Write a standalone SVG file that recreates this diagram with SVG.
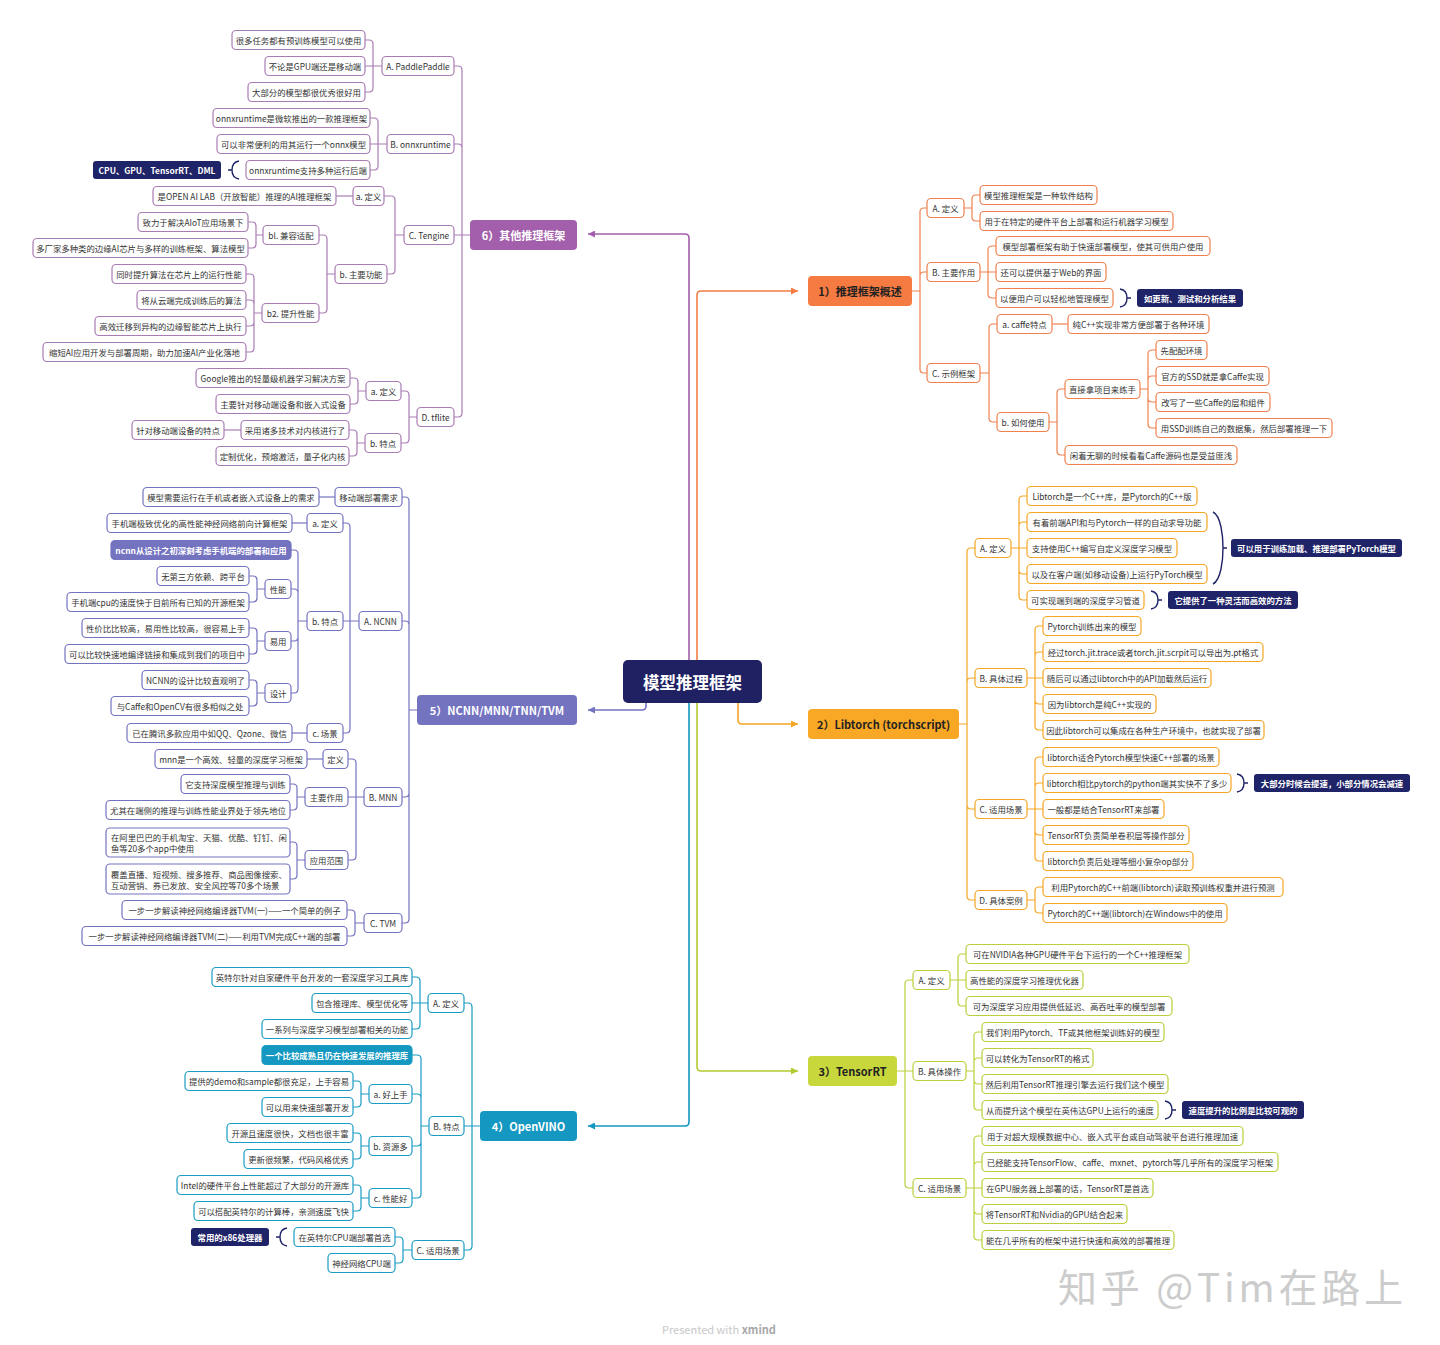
<svg xmlns="http://www.w3.org/2000/svg" width="1440" height="1345" viewBox="0 0 1440 1345">
<defs>
<style>
text{font-family:"Noto Sans CJK SC","Noto Sans",sans-serif;}
.n rect{fill:#fff;stroke-width:1.2;}
.n text{font-size:8.4px;fill:#333;text-anchor:middle;dominant-baseline:central;}
.o rect{stroke:#f0804e;} .a rect{stroke:#f5a623;} .l rect{stroke:#bccf3a;} .t rect{stroke:#1a9cc4;} .p rect{stroke:#7473c0;} .v rect{stroke:#a97cb5;}
.co rect{fill:#1f2367;stroke:none;}
.co text{font-size:8.4px;fill:#fff;font-weight:bold;text-anchor:middle;dominant-baseline:central;}
.b rect{stroke:none;}
.b text{font-size:11px;font-weight:bold;text-anchor:middle;dominant-baseline:central;}
.dk text{fill:#222;} .wt text{fill:#fff;}
.hl text{fill:#fff;font-weight:bold;}
.ml text{text-anchor:start;dominant-baseline:central;}
.cn path{fill:none;stroke-width:1.2;}
.mc path{fill:none;stroke-width:1.6;}
.br path{fill:none;stroke:#1f2367;stroke-width:1.4;}
</style>
<marker id="mo" viewBox="0 0 10 10" refX="10" refY="5" markerWidth="7" markerHeight="7" markerUnits="userSpaceOnUse" orient="auto"><path d="M0,0L10,5L0,10z" fill="#f47c44"/></marker>
<marker id="ma" viewBox="0 0 10 10" refX="10" refY="5" markerWidth="7" markerHeight="7" markerUnits="userSpaceOnUse" orient="auto"><path d="M0,0L10,5L0,10z" fill="#f5a623"/></marker>
<marker id="ml" viewBox="0 0 10 10" refX="10" refY="5" markerWidth="7" markerHeight="7" markerUnits="userSpaceOnUse" orient="auto"><path d="M0,0L10,5L0,10z" fill="#b5ca30"/></marker>
<marker id="mt" viewBox="0 0 10 10" refX="10" refY="5" markerWidth="7" markerHeight="7" markerUnits="userSpaceOnUse" orient="auto"><path d="M0,0L10,5L0,10z" fill="#1497c0"/></marker>
<marker id="mp" viewBox="0 0 10 10" refX="10" refY="5" markerWidth="7" markerHeight="7" markerUnits="userSpaceOnUse" orient="auto"><path d="M0,0L10,5L0,10z" fill="#7473c0"/></marker>
<marker id="mv" viewBox="0 0 10 10" refX="10" refY="5" markerWidth="7" markerHeight="7" markerUnits="userSpaceOnUse" orient="auto"><path d="M0,0L10,5L0,10z" fill="#a35fab"/></marker>
</defs>
<rect width="1440" height="1345" fill="#fff"/>

<g id="connectors">
<g class="mc">
<path d="M689,660V238Q689,234 685,234H588" stroke="#a35fab" marker-end="url(#mv)"/>
<path d="M697,660V295Q697,291 701,291H798" stroke="#f47c44" marker-end="url(#mo)"/>
<path d="M646,703V706Q646,710 642,710H588" stroke="#7473c0" marker-end="url(#mp)"/>
<path d="M738,703V720Q738,724 742,724H798" stroke="#f5a623" marker-end="url(#ma)"/>
<path d="M689,703V1122Q689,1126 685,1126H588" stroke="#1497c0" marker-end="url(#mt)"/>
<path d="M697,703V1067Q697,1071 701,1071H798" stroke="#b5ca30" marker-end="url(#ml)"/>
</g>
<g class="cn" stroke="#f0804e">
<path d="M912,291H920 M920,291V212Q920,208 924,208H927 M920,291V276Q920,272 924,272H927 M920,291V369Q920,373 924,373H927"/>
<path d="M964,208H972 M972,208V199Q972,195 976,195H980 M972,208V217Q972,221 976,221H980"/>
<path d="M980,272H996 M988,272V250Q988,246 992,246H996 M988,272V294Q988,298 992,298H996"/>
<path d="M980,373H989 M989,373V328Q989,324 993,324H997 M989,373V418Q989,422 993,422H997"/>
<path d="M1052,324H1068"/>
<path d="M1049,422H1057 M1057,422V393Q1057,389 1061,389H1065 M1057,422V451Q1057,455 1061,455H1065"/>
<path d="M1140,389H1148 M1148,389V354Q1148,350 1152,350H1156 M1148,389V380Q1148,376 1152,376H1156 M1148,389V398Q1148,402 1152,402H1156 M1148,389V424Q1148,428 1152,428H1156"/>
</g>
<g class="cn" stroke="#f5a623">
<path d="M959,724H967 M967,724V552Q967,548 971,548H975 M967,724V682Q967,678 971,678H975 M967,724V805Q967,809 971,809H975 M967,724V896Q967,900 971,900H975"/>
<path d="M1011,548H1027 M1019,548V500Q1019,496 1023,496H1027 M1019,548V526Q1019,522 1023,522H1027 M1019,548V570Q1019,574 1023,574H1027 M1019,548V596Q1019,600 1023,600H1027"/>
<path d="M1027,678H1043 M1035,678V630Q1035,626 1039,626H1043 M1035,678V656Q1035,652 1039,652H1043 M1035,678V700Q1035,704 1039,704H1043 M1035,678V726Q1035,730 1039,730H1043"/>
<path d="M1027,809H1043 M1035,809V761Q1035,757 1039,757H1043 M1035,809V787Q1035,783 1039,783H1043 M1035,809V831Q1035,835 1039,835H1043 M1035,809V857Q1035,861 1039,861H1043"/>
<path d="M1027,900H1035 M1035,900V891Q1035,887 1039,887H1043 M1035,900V909Q1035,913 1039,913H1043"/>
</g>
<g class="cn" stroke="#bccf3a">
<path d="M897,1071H913 M905,1071V984Q905,980 909,980H913 M905,1071V1184Q905,1188 909,1188H913"/>
<path d="M950,980H966 M958,980V958Q958,954 962,954H966 M958,980V1002Q958,1006 962,1006H966"/>
<path d="M966,1071H974 M974,1071V1036Q974,1032 978,1032H982 M974,1071V1062Q974,1058 978,1058H982 M974,1071V1080Q974,1084 978,1084H982 M974,1071V1106Q974,1110 978,1110H982"/>
<path d="M966,1188H982 M974,1188V1140Q974,1136 978,1136H982 M974,1188V1166Q974,1162 978,1162H982 M974,1188V1210Q974,1214 978,1214H982 M974,1188V1236Q974,1240 978,1240H982"/>
</g>
<g class="cn" stroke="#1a9cc4">
<path d="M480,1126H464 M472,1126V1007Q472,1003 468,1003H464 M472,1126V1246Q472,1250 468,1250H464"/>
<path d="M428,1003H412 M420,1003V981Q420,977 416,977H412 M420,1003V1025Q420,1029 416,1029H412"/>
<path d="M429,1126H421 M421,1126V1059Q421,1055 417,1055H412 M421,1126V1098Q421,1094 417,1094H412 M421,1126V1142Q421,1146 417,1146H412 M421,1126V1194Q421,1198 417,1198H412"/>
<path d="M369,1094H361 M361,1094V1085Q361,1081 357,1081H353 M361,1094V1103Q361,1107 357,1107H353"/>
<path d="M369,1146H361 M361,1146V1137Q361,1133 357,1133H353 M361,1146V1155Q361,1159 357,1159H353"/>
<path d="M369,1198H361 M361,1198V1189Q361,1185 357,1185H353 M361,1198V1207Q361,1211 357,1211H353"/>
<path d="M412,1250H403 M403,1250V1241Q403,1237 399,1237H395 M403,1250V1259Q403,1263 399,1263H395"/>
</g>
<g class="cn" stroke="#7473c0">
<path d="M417,710H409 M409,710V501Q409,497 405,497H402 M409,710V625Q409,621 405,621H402 M409,710V793Q409,797 405,797H402 M409,710V919Q409,923 405,923H402"/>
<path d="M335,497H319"/>
<path d="M359,621H343 M350,621V527Q350,523 346,523H343 M350,621V729Q350,733 346,733H343"/>
<path d="M307,523H292"/>
<path d="M307,621H298 M298,621V554Q298,550 294,550H291 M298,621V593Q298,589 294,589H291 M298,621V637Q298,641 294,641H291 M298,621V689Q298,693 294,693H291"/>
<path d="M265,589H257 M257,589V580Q257,576 253,576H249 M257,589V598Q257,602 253,602H249"/>
<path d="M265,641H257 M257,641V632Q257,628 253,628H249 M257,641V650Q257,654 253,654H249"/>
<path d="M265,693H257 M257,693V684Q257,680 253,680H249 M257,693V702Q257,706 253,706H249"/>
<path d="M307,733H292"/>
<path d="M364,797H348 M356,797V763Q356,759 352,759H348 M356,797V856Q356,860 352,860H348"/>
<path d="M323,759H307"/>
<path d="M305,797H297 M297,797V788Q297,784 293,784H290 M297,797V806Q297,810 293,810H290"/>
<path d="M305,860H297 M297,860V846Q297,842 293,842H290 M297,860V875Q297,879 293,879H290"/>
<path d="M364,923H355 M355,923V914Q355,910 351,910H347 M355,923V932Q355,936 351,936H347"/>
</g>
<g class="cn" stroke="#a97cb5">
<path d="M470,235H454 M462,235V70Q462,66 458,66H454 M462,235V148Q462,144 458,144H454 M462,235V413Q462,417 458,417H454"/>
<path d="M382,66H365 M373,66V44Q373,40 369,40H365 M373,66V88Q373,92 369,92H365"/>
<path d="M387,144H370 M378,144V122Q378,118 374,118H370 M378,144V166Q378,170 374,170H370"/>
<path d="M404,235H395 M395,235V200Q395,196 391,196H384 M395,235V270Q395,274 391,274H387"/>
<path d="M353,196H336"/>
<path d="M335,274H327 M327,274V239Q327,235 323,235H319 M327,274V309Q327,313 323,313H319"/>
<path d="M263,235H256 M256,235V226Q256,222 252,222H248 M256,235V244Q256,248 252,248H248"/>
<path d="M262,313H254 M254,313V278Q254,274 250,274H246 M254,313V304Q254,300 250,300H246 M254,313V322Q254,326 250,326H246 M254,313V348Q254,352 250,352H246"/>
<path d="M417,417H409 M409,417V395Q409,391 405,391H401 M409,417V439Q409,443 405,443H401"/>
<path d="M366,391H358 M358,391V382Q358,378 354,378H350 M358,391V400Q358,404 354,404H350"/>
<path d="M365,443H357 M357,443V434Q357,430 353,430H349 M357,443V452Q357,456 353,456H349"/>
<path d="M241,430H224"/>
</g>
<g class="br">
<path d="M1120,289C1126,290 1127,294 1127,298C1127,302 1126,306 1120,307M1127,298H1131"/>
<path d="M1213,512C1221,516 1223,536 1223,548C1223,560 1221,580 1213,584M1223,548H1227"/>
<path d="M1151,591C1157,592 1158,596 1158,600C1158,604 1157,608 1151,609M1158,600H1162"/>
<path d="M1237,774C1243,775 1244,779 1244,783C1244,787 1243,791 1237,792M1244,783H1248"/>
<path d="M1165,1101C1171,1102 1172,1106 1172,1110C1172,1114 1171,1118 1165,1119M1172,1110H1176"/>
<path d="M239,161C233,162 232,166 232,170C232,174 233,178 239,179M232,170H228"/>
<path d="M287,1228C281,1229 280,1233 280,1237C280,1241 281,1245 287,1246M280,1237H276"/>
</g>
</g>

<g id="center"><rect x="623" y="660" width="139" height="43" rx="5" fill="#1f2163"/><text x="692.5" y="681.5" font-size="16.5" font-weight="bold" fill="#fff" text-anchor="middle" dominant-baseline="central">模型推理框架</text></g>

<!-- Branch 1 -->
<g id="b1" class="b dk"><rect x="808" y="276" width="104" height="30" rx="4" fill="#f67b43"/><text x="860" y="291">1）推理框架概述</text></g>
<g id="b1-A" class="n o"><rect x="927" y="198.5" width="37" height="19" rx="4"/><text x="945.5" y="208">A. 定义</text></g>
<g id="b1-B" class="n o"><rect x="927" y="262.5" width="53" height="19" rx="4"/><text x="953.5" y="272">B. 主要作用</text></g>
<g id="b1-C" class="n o"><rect x="927" y="363.5" width="53" height="19" rx="4"/><text x="953.5" y="373">C. 示例框架</text></g>
<g id="b1-A1" class="n o"><rect x="980" y="185.5" width="117" height="19" rx="4"/><text x="1038.5" y="195">模型推理框架是一种软件结构</text></g>
<g id="b1-A2" class="n o"><rect x="980" y="211.5" width="193" height="19" rx="4"/><text x="1076.5" y="221">用于在特定的硬件平台上部署和运行机器学习模型</text></g>
<g id="b1-B1" class="n o"><rect x="996" y="236.5" width="214" height="19" rx="4"/><text x="1103" y="246">模型部署框架有助于快速部署模型，使其可供用户使用</text></g>
<g id="b1-B2" class="n o"><rect x="996" y="262.5" width="110" height="19" rx="4"/><text x="1051" y="272">还可以提供基于Web的界面</text></g>
<g id="b1-B3" class="n o"><rect x="996" y="288.5" width="117" height="19" rx="4"/><text x="1054.5" y="298">以便用户可以轻松地管理模型</text></g>
<g id="b1-B3-note" class="co"><rect x="1137" y="289" width="106" height="18" rx="3"/><text x="1190" y="298">如更新、测试和分析结果</text></g>
<g id="b1-Ca" class="n o"><rect x="997" y="314.5" width="55" height="19" rx="4"/><text x="1024.5" y="324">a. caffe特点</text></g>
<g id="b1-Ca1" class="n o"><rect x="1068" y="314.5" width="141" height="19" rx="4"/><text x="1138.5" y="324">纯C++实现非常方便部署于各种环境</text></g>
<g id="b1-Cb" class="n o"><rect x="997" y="412.5" width="52" height="19" rx="4"/><text x="1023" y="422">b. 如何使用</text></g>
<g id="b1-Cb1" class="n o"><rect x="1065" y="379.5" width="75" height="19" rx="4"/><text x="1102.5" y="389">直接拿项目来练手</text></g>
<g id="b1-Cb1a" class="n o"><rect x="1156" y="340.5" width="51" height="19" rx="4"/><text x="1181.5" y="350">先配配环境</text></g>
<g id="b1-Cb1b" class="n o"><rect x="1156" y="366.5" width="113" height="19" rx="4"/><text x="1212.5" y="376">官方的SSD就是拿Caffe实现</text></g>
<g id="b1-Cb1c" class="n o"><rect x="1156" y="392.5" width="114" height="19" rx="4"/><text x="1213" y="402">改写了一些Caffe的层和组件</text></g>
<g id="b1-Cb1d" class="n o"><rect x="1156" y="418.5" width="176" height="19" rx="4"/><text x="1244" y="428">用SSD训练自己的数据集，然后部署推理一下</text></g>
<g id="b1-Cb2" class="n o"><rect x="1065" y="445.5" width="172" height="19" rx="4"/><text x="1151" y="455">闲着无聊的时候看看Caffe源码也是受益匪浅</text></g>

<!-- Branch 2 -->
<g id="b2" class="b dk"><rect x="808" y="709" width="151" height="30" rx="4" fill="#f9a825"/><text x="883.5" y="724">2）Libtorch (torchscript)</text></g>
<g id="b2-A" class="n a"><rect x="975" y="538.5" width="36" height="19" rx="4"/><text x="993" y="548">A. 定义</text></g>
<g id="b2-B" class="n a"><rect x="975" y="668.5" width="52" height="19" rx="4"/><text x="1001" y="678">B. 具体过程</text></g>
<g id="b2-C" class="n a"><rect x="975" y="799.5" width="52" height="19" rx="4"/><text x="1001" y="809">C. 适用场景</text></g>
<g id="b2-D" class="n a"><rect x="975" y="890.5" width="52" height="19" rx="4"/><text x="1001" y="900">D. 具体案例</text></g>
<g id="b2-A1" class="n a"><rect x="1027" y="486.5" width="170" height="19" rx="4"/><text x="1112" y="496">Libtorch是一个C++库，是Pytorch的C++版</text></g>
<g id="b2-A2" class="n a"><rect x="1027" y="512.5" width="180" height="19" rx="4"/><text x="1117" y="522">有着前端API和与Pytorch一样的自动求导功能</text></g>
<g id="b2-A3" class="n a"><rect x="1027" y="538.5" width="150" height="19" rx="4"/><text x="1102" y="548">支持使用C++编写自定义深度学习模型</text></g>
<g id="b2-A4" class="n a"><rect x="1027" y="564.5" width="180" height="19" rx="4"/><text x="1117" y="574">以及在客户端(如移动设备)上运行PyTorch模型</text></g>
<g id="b2-A5" class="n a"><rect x="1027" y="590.5" width="117" height="19" rx="4"/><text x="1085.5" y="600">可实现端到端的深度学习管道</text></g>
<g id="b2-A-note" class="co"><rect x="1231" y="539" width="171" height="18" rx="3"/><text x="1316.5" y="548">可以用于训练加载、推理部署PyTorch模型</text></g>
<g id="b2-A5-note" class="co"><rect x="1168" y="591" width="130" height="18" rx="3"/><text x="1233" y="600">它提供了一种灵活而高效的方法</text></g>
<g id="b2-B1" class="n a"><rect x="1043" y="616.5" width="98" height="19" rx="4"/><text x="1092" y="626">Pytorch训练出来的模型</text></g>
<g id="b2-B2" class="n a"><rect x="1043" y="642.5" width="220" height="19" rx="4"/><text x="1153" y="652">经过torch.jit.trace或者torch.jit.scrpit可以导出为.pt格式</text></g>
<g id="b2-B3" class="n a"><rect x="1043" y="668.5" width="168" height="19" rx="4"/><text x="1127" y="678">随后可以通过libtorch中的API加载然后运行</text></g>
<g id="b2-B4" class="n a"><rect x="1043" y="694.5" width="113" height="19" rx="4"/><text x="1099.5" y="704">因为libtorch是纯C++实现的</text></g>
<g id="b2-B5" class="n a"><rect x="1043" y="720.5" width="221" height="19" rx="4"/><text x="1153.5" y="730">因此libtorch可以集成在各种生产环境中，也就实现了部署</text></g>
<g id="b2-C1" class="n a"><rect x="1043" y="747.5" width="176" height="19" rx="4"/><text x="1131" y="757">libtorch适合Pytorch模型快速C++部署的场景</text></g>
<g id="b2-C2" class="n a"><rect x="1043" y="773.5" width="188" height="19" rx="4"/><text x="1137" y="783">libtorch相比pytorch的python端其实快不了多少</text></g>
<g id="b2-C2-note" class="co"><rect x="1254" y="774" width="156" height="18" rx="3"/><text x="1332" y="783">大部分时候会提速，小部分情况会减速</text></g>
<g id="b2-C3" class="n a"><rect x="1043" y="799.5" width="121" height="19" rx="4"/><text x="1103.5" y="809">一般都是结合TensorRT来部署</text></g>
<g id="b2-C4" class="n a"><rect x="1043" y="825.5" width="146" height="19" rx="4"/><text x="1116" y="835">TensorRT负责简单卷积层等操作部分</text></g>
<g id="b2-C5" class="n a"><rect x="1043" y="851.5" width="150" height="19" rx="4"/><text x="1118" y="861">libtorch负责后处理等细小复杂op部分</text></g>
<g id="b2-D1" class="n a"><rect x="1043" y="877.5" width="240" height="19" rx="4"/><text x="1163" y="887">利用Pytorch的C++前端(libtorch)读取预训练权重并进行预测</text></g>
<g id="b2-D2" class="n a"><rect x="1043" y="903.5" width="184" height="19" rx="4"/><text x="1135" y="913">Pytorch的C++端(libtorch)在Windows中的使用</text></g>

<!-- Branch 3 -->
<g id="b3" class="b dk"><rect x="808" y="1056" width="89" height="30" rx="4" fill="#c8d83c"/><text x="852.5" y="1071">3）TensorRT</text></g>
<g id="b3-A" class="n l"><rect x="913" y="970.5" width="37" height="19" rx="4"/><text x="931.5" y="980">A. 定义</text></g>
<g id="b3-B" class="n l"><rect x="913" y="1061.5" width="53" height="19" rx="4"/><text x="939.5" y="1071">B. 具体操作</text></g>
<g id="b3-C" class="n l"><rect x="913" y="1178.5" width="53" height="19" rx="4"/><text x="939.5" y="1188">C. 适用场景</text></g>
<g id="b3-A1" class="n l"><rect x="966" y="944.5" width="223" height="19" rx="4"/><text x="1077.5" y="954">可在NVIDIA各种GPU硬件平台下运行的一个C++推理框架</text></g>
<g id="b3-A2" class="n l"><rect x="966" y="970.5" width="117" height="19" rx="4"/><text x="1024.5" y="980">高性能的深度学习推理优化器</text></g>
<g id="b3-A3" class="n l"><rect x="966" y="996.5" width="206" height="19" rx="4"/><text x="1069" y="1006">可为深度学习应用提供低延迟、高吞吐率的模型部署</text></g>
<g id="b3-B1" class="n l"><rect x="982" y="1022.5" width="182" height="19" rx="4"/><text x="1073" y="1032">我们利用Pytorch、TF或其他框架训练好的模型</text></g>
<g id="b3-B2" class="n l"><rect x="982" y="1048.5" width="111" height="19" rx="4"/><text x="1037.5" y="1058">可以转化为TensorRT的格式</text></g>
<g id="b3-B3" class="n l"><rect x="982" y="1074.5" width="186" height="19" rx="4"/><text x="1075" y="1084">然后利用TensorRT推理引擎去运行我们这个模型</text></g>
<g id="b3-B4" class="n l"><rect x="982" y="1100.5" width="176" height="19" rx="4"/><text x="1070" y="1110">从而提升这个模型在英伟达GPU上运行的速度</text></g>
<g id="b3-B4-note" class="co"><rect x="1182" y="1101" width="122" height="18" rx="3"/><text x="1243" y="1110">速度提升的比例是比较可观的</text></g>
<g id="b3-C1" class="n l"><rect x="982" y="1126.5" width="261" height="19" rx="4"/><text x="1112.5" y="1136">用于对超大规模数据中心、嵌入式平台或自动驾驶平台进行推理加速</text></g>
<g id="b3-C2" class="n l"><rect x="982" y="1152.5" width="296" height="19" rx="4"/><text x="1130" y="1162">已经能支持TensorFlow、caffe、mxnet、pytorch等几乎所有的深度学习框架</text></g>
<g id="b3-C3" class="n l"><rect x="982" y="1178.5" width="171" height="19" rx="4"/><text x="1067.5" y="1188">在GPU服务器上部署的话，TensorRT是首选</text></g>
<g id="b3-C4" class="n l"><rect x="982" y="1204.5" width="145" height="19" rx="4"/><text x="1054.5" y="1214">将TensorRT和Nvidia的GPU结合起来</text></g>
<g id="b3-C5" class="n l"><rect x="982" y="1230.5" width="192" height="19" rx="4"/><text x="1078" y="1240">能在几乎所有的框架中进行快速和高效的部署推理</text></g>

<!-- Branch 4 -->
<g id="b4" class="b wt"><rect x="480" y="1111" width="97" height="30" rx="4" fill="#1497c0"/><text x="528.5" y="1126">4）OpenVINO</text></g>
<g id="b4-A" class="n t"><rect x="428" y="993.5" width="36" height="19" rx="4"/><text x="446" y="1003">A. 定义</text></g>
<g id="b4-B" class="n t"><rect x="429" y="1116.5" width="35" height="19" rx="4"/><text x="446.5" y="1126">B. 特点</text></g>
<g id="b4-C" class="n t"><rect x="412" y="1240.5" width="52" height="19" rx="4"/><text x="438" y="1250">C. 适用场景</text></g>
<g id="b4-A1" class="n t"><rect x="212" y="967.5" width="200" height="19" rx="4"/><text x="312" y="977">英特尔针对自家硬件平台开发的一套深度学习工具库</text></g>
<g id="b4-A2" class="n t"><rect x="312" y="993.5" width="100" height="19" rx="4"/><text x="362" y="1003">包含推理库、模型优化等</text></g>
<g id="b4-A3" class="n t"><rect x="262" y="1019.5" width="150" height="19" rx="4"/><text x="337" y="1029">一系列与深度学习模型部署相关的功能</text></g>
<g id="b4-B0" class="n t hl"><rect x="262" y="1045.5" width="150" height="19" rx="4" style="fill:#1497c0"/><text x="337" y="1055">一个比较成熟且仍在快速发展的推理库</text></g>
<g id="b4-Ba" class="n t"><rect x="369" y="1084.5" width="43" height="19" rx="4"/><text x="390.5" y="1094">a. 好上手</text></g>
<g id="b4-Bb" class="n t"><rect x="369" y="1136.5" width="43" height="19" rx="4"/><text x="390.5" y="1146">b. 资源多</text></g>
<g id="b4-Bc" class="n t"><rect x="369" y="1188.5" width="43" height="19" rx="4"/><text x="390.5" y="1198">c. 性能好</text></g>
<g id="b4-Ba1" class="n t"><rect x="185" y="1071.5" width="168" height="19" rx="4"/><text x="269" y="1081">提供的demo和sample都很充足，上手容易</text></g>
<g id="b4-Ba2" class="n t"><rect x="262" y="1097.5" width="91" height="19" rx="4"/><text x="307.5" y="1107">可以用来快速部署开发</text></g>
<g id="b4-Bb1" class="n t"><rect x="227" y="1123.5" width="126" height="19" rx="4"/><text x="290" y="1133">开源且速度很快，文档也很丰富</text></g>
<g id="b4-Bb2" class="n t"><rect x="244" y="1149.5" width="109" height="19" rx="4"/><text x="298.5" y="1159">更新很频繁，代码风格优秀</text></g>
<g id="b4-Bc1" class="n t"><rect x="177" y="1175.5" width="176" height="19" rx="4"/><text x="265" y="1185">Intel的硬件平台上性能超过了大部分的开源库</text></g>
<g id="b4-Bc2" class="n t"><rect x="194" y="1201.5" width="159" height="19" rx="4"/><text x="273.5" y="1211">可以搭配英特尔的计算棒，亲测速度飞快</text></g>
<g id="b4-C1" class="n t"><rect x="294" y="1227.5" width="101" height="19" rx="4"/><text x="344.5" y="1237">在英特尔CPU端部署首选</text></g>
<g id="b4-C1-note" class="co"><rect x="191" y="1228" width="78" height="18" rx="3"/><text x="230" y="1237">常用的x86处理器</text></g>
<g id="b4-C2" class="n t"><rect x="328" y="1253.5" width="67" height="19" rx="4"/><text x="361.5" y="1263">神经网络CPU端</text></g>

<!-- Branch 5 -->
<g id="b5" class="b wt"><rect x="417" y="695" width="160" height="30" rx="4" fill="#7473c0"/><text x="497" y="710">5）NCNN/MNN/TNN/TVM</text></g>
<g id="b5-0" class="n p"><rect x="335" y="487.5" width="67" height="19" rx="4"/><text x="368.5" y="497">移动端部署需求</text></g>
<g id="b5-01" class="n p"><rect x="143" y="487.5" width="176" height="19" rx="4"/><text x="231" y="497">模型需要运行在手机或者嵌入式设备上的需求</text></g>
<g id="b5-A" class="n p"><rect x="359" y="611.5" width="43" height="19" rx="4"/><text x="380.5" y="621">A. NCNN</text></g>
<g id="b5-B" class="n p"><rect x="364" y="787.5" width="38" height="19" rx="4"/><text x="383" y="797">B. MNN</text></g>
<g id="b5-C" class="n p"><rect x="364" y="913.5" width="38" height="19" rx="4"/><text x="383" y="923">C. TVM</text></g>
<g id="b5-Aa" class="n p"><rect x="307" y="513.5" width="36" height="19" rx="4"/><text x="325" y="523">a. 定义</text></g>
<g id="b5-Aa1" class="n p"><rect x="107" y="513.5" width="185" height="19" rx="4"/><text x="199.5" y="523">手机端极致优化的高性能神经网络前向计算框架</text></g>
<g id="b5-Ab" class="n p"><rect x="307" y="611.5" width="36" height="19" rx="4"/><text x="325" y="621">b. 特点</text></g>
<g id="b5-Ab0" class="n p hl"><rect x="111" y="540.5" width="180" height="19" rx="4" style="fill:#7473c0"/><text x="201" y="550">ncnn从设计之初深刻考虑手机端的部署和应用</text></g>
<g id="b5-Ab1" class="n p"><rect x="265" y="579.5" width="26" height="19" rx="4"/><text x="278" y="589">性能</text></g>
<g id="b5-Ab2" class="n p"><rect x="265" y="631.5" width="26" height="19" rx="4"/><text x="278" y="641">易用</text></g>
<g id="b5-Ab3" class="n p"><rect x="265" y="683.5" width="26" height="19" rx="4"/><text x="278" y="693">设计</text></g>
<g id="b5-Ab1a" class="n p"><rect x="157" y="566.5" width="92" height="19" rx="4"/><text x="203" y="576">无第三方依赖、跨平台</text></g>
<g id="b5-Ab1b" class="n p"><rect x="67" y="592.5" width="182" height="19" rx="4"/><text x="158" y="602">手机端cpu的速度快于目前所有已知的开源框架</text></g>
<g id="b5-Ab2a" class="n p"><rect x="82" y="618.5" width="167" height="19" rx="4"/><text x="165.5" y="628">性价比比较高，易用性比较高，很容易上手</text></g>
<g id="b5-Ab2b" class="n p"><rect x="65" y="644.5" width="184" height="19" rx="4"/><text x="157" y="654">可以比较快速地编译链接和集成到我们的项目中</text></g>
<g id="b5-Ab3a" class="n p"><rect x="142" y="670.5" width="107" height="19" rx="4"/><text x="195.5" y="680">NCNN的设计比较直观明了</text></g>
<g id="b5-Ab3b" class="n p"><rect x="111" y="696.5" width="138" height="19" rx="4"/><text x="180" y="706">与Caffe和OpenCV有很多相似之处</text></g>
<g id="b5-Ac" class="n p"><rect x="307" y="723.5" width="36" height="19" rx="4"/><text x="325" y="733">c. 场景</text></g>
<g id="b5-Ac1" class="n p"><rect x="127" y="723.5" width="165" height="19" rx="4"/><text x="209.5" y="733">已在腾讯多款应用中如QQ、Qzone、微信</text></g>
<g id="b5-B1" class="n p"><rect x="323" y="749.5" width="25" height="19" rx="4"/><text x="335.5" y="759">定义</text></g>
<g id="b5-B1a" class="n p"><rect x="155" y="749.5" width="152" height="19" rx="4"/><text x="231" y="759">mnn是一个高效、轻量的深度学习框架</text></g>
<g id="b5-B2" class="n p"><rect x="305" y="787.5" width="43" height="19" rx="4"/><text x="326.5" y="797">主要作用</text></g>
<g id="b5-B2a" class="n p"><rect x="181" y="774.5" width="109" height="19" rx="4"/><text x="235.5" y="784">它支持深度模型推理与训练</text></g>
<g id="b5-B2b" class="n p"><rect x="106" y="800.5" width="184" height="19" rx="4"/><text x="198" y="810">尤其在端侧的推理与训练性能业界处于领先地位</text></g>
<g id="b5-B3" class="n p"><rect x="305" y="850.5" width="43" height="19" rx="4"/><text x="326.5" y="860">应用范围</text></g>
<g id="b5-B3a" class="n p ml"><rect x="106" y="828" width="184" height="29" rx="4"/><text x="111" y="837">在阿里巴巴的手机淘宝、天猫、优酷、钉钉、闲</text><text x="111" y="848">鱼等20多个app中使用</text></g>
<g id="b5-B3b" class="n p ml"><rect x="106" y="864" width="184" height="30" rx="4"/><text x="111" y="874">覆盖直播、短视频、搜多推荐、商品图像搜索、</text><text x="111" y="885">互动营销、券已发放、安全风控等70多个场景</text></g>
<g id="b5-C1" class="n p"><rect x="122" y="900.5" width="225" height="19" rx="4"/><text x="234.5" y="910">一步一步解读神经网络编译器TVM(一)——一个简单的例子</text></g>
<g id="b5-C2" class="n p"><rect x="82" y="926.5" width="265" height="19" rx="4"/><text x="214.5" y="936">一步一步解读神经网络编译器TVM(二)——利用TVM完成C++端的部署</text></g>

<!-- Branch 6 -->
<g id="b6" class="b wt"><rect x="470" y="220" width="107" height="30" rx="4" fill="#a35fab"/><text x="523.5" y="235">6）其他推理框架</text></g>
<g id="b6-A" class="n v"><rect x="382" y="56.5" width="72" height="19" rx="4"/><text x="418" y="66">A. PaddlePaddle</text></g>
<g id="b6-B" class="n v"><rect x="387" y="134.5" width="67" height="19" rx="4"/><text x="420.5" y="144">B. onnxruntime</text></g>
<g id="b6-C" class="n v"><rect x="404" y="225.5" width="50" height="19" rx="4"/><text x="429" y="235">C. Tengine</text></g>
<g id="b6-D" class="n v"><rect x="417" y="407.5" width="37" height="19" rx="4"/><text x="435.5" y="417">D. tflite</text></g>
<g id="b6-A1" class="n v"><rect x="232" y="30.5" width="133" height="19" rx="4"/><text x="298.5" y="40">很多任务都有预训练模型可以使用</text></g>
<g id="b6-A2" class="n v"><rect x="265" y="56.5" width="100" height="19" rx="4"/><text x="315" y="66">不论是GPU端还是移动端</text></g>
<g id="b6-A3" class="n v"><rect x="248" y="82.5" width="117" height="19" rx="4"/><text x="306.5" y="92">大部分的模型都很优秀很好用</text></g>
<g id="b6-B1" class="n v"><rect x="213" y="108.5" width="157" height="19" rx="4"/><text x="291.5" y="118">onnxruntime是微软推出的一款推理框架</text></g>
<g id="b6-B2" class="n v"><rect x="217" y="134.5" width="153" height="19" rx="4"/><text x="293.5" y="144">可以非常便利的用其运行一个onnx模型</text></g>
<g id="b6-B3" class="n v"><rect x="246" y="160.5" width="124" height="19" rx="4"/><text x="308" y="170">onnxruntime支持多种运行后端</text></g>
<g id="b6-B3-note" class="co"><rect x="93" y="161" width="128" height="18" rx="3"/><text x="157" y="170">CPU、GPU、TensorRT、DML</text></g>
<g id="b6-Ca" class="n v"><rect x="353" y="186.5" width="31" height="19" rx="4"/><text x="368.5" y="196">a. 定义</text></g>
<g id="b6-Ca1" class="n v"><rect x="153" y="186.5" width="183" height="19" rx="4"/><text x="244.5" y="196">是OPEN AI LAB（开放智能）推理的AI推理框架</text></g>
<g id="b6-Cb" class="n v"><rect x="335" y="264.5" width="52" height="19" rx="4"/><text x="361" y="274">b. 主要功能</text></g>
<g id="b6-Cb1" class="n v"><rect x="263" y="225.5" width="56" height="19" rx="4"/><text x="291" y="235">bl. 兼容适配</text></g>
<g id="b6-Cb1a" class="n v"><rect x="138" y="212.5" width="110" height="19" rx="4"/><text x="193" y="222">致力于解决AIoT应用场景下</text></g>
<g id="b6-Cb1b" class="n v"><rect x="33" y="238.5" width="215" height="19" rx="4"/><text x="140.5" y="248">多厂家多种类的边缘AI芯片与多样的训练框架、算法模型</text></g>
<g id="b6-Cb2" class="n v"><rect x="262" y="303.5" width="57" height="19" rx="4"/><text x="290.5" y="313">b2. 提升性能</text></g>
<g id="b6-Cb2a" class="n v"><rect x="112" y="264.5" width="134" height="19" rx="4"/><text x="179" y="274">同时提升算法在芯片上的运行性能</text></g>
<g id="b6-Cb2b" class="n v"><rect x="137" y="290.5" width="109" height="19" rx="4"/><text x="191.5" y="300">将从云端完成训练后的算法</text></g>
<g id="b6-Cb2c" class="n v"><rect x="95" y="316.5" width="151" height="19" rx="4"/><text x="170.5" y="326">高效迁移到异构的边缘智能芯片上执行</text></g>
<g id="b6-Cb2d" class="n v"><rect x="43" y="342.5" width="203" height="19" rx="4"/><text x="144.5" y="352">缩短AI应用开发与部署周期，助力加速AI产业化落地</text></g>
<g id="b6-Da" class="n v"><rect x="366" y="381.5" width="35" height="19" rx="4"/><text x="383.5" y="391">a. 定义</text></g>
<g id="b6-Da1" class="n v"><rect x="196" y="368.5" width="154" height="19" rx="4"/><text x="273" y="378">Google推出的轻量级机器学习解决方案</text></g>
<g id="b6-Da2" class="n v"><rect x="216" y="394.5" width="134" height="19" rx="4"/><text x="283" y="404">主要针对移动端设备和嵌入式设备</text></g>
<g id="b6-Db" class="n v"><rect x="365" y="433.5" width="36" height="19" rx="4"/><text x="383" y="443">b. 特点</text></g>
<g id="b6-Db1" class="n v"><rect x="241" y="420.5" width="108" height="19" rx="4"/><text x="295" y="430">采用诸多技术对内核进行了</text></g>
<g id="b6-Db1a" class="n v"><rect x="132" y="420.5" width="92" height="19" rx="4"/><text x="178" y="430">针对移动端设备的特点</text></g>
<g id="b6-Db2" class="n v"><rect x="216" y="446.5" width="133" height="19" rx="4"/><text x="282.5" y="456">定制优化，预熔激活，量子化内核</text></g>

<text x="1058" y="1302" font-size="39" fill="#cccccc" textLength="345" lengthAdjust="spacing">知乎 @Tim在路上</text>
<text x="662" y="1334" font-size="11" fill="#c8c8c8">Presented with <tspan font-weight="bold" fill="#a8a8a8">xmind</tspan></text>
</svg>
